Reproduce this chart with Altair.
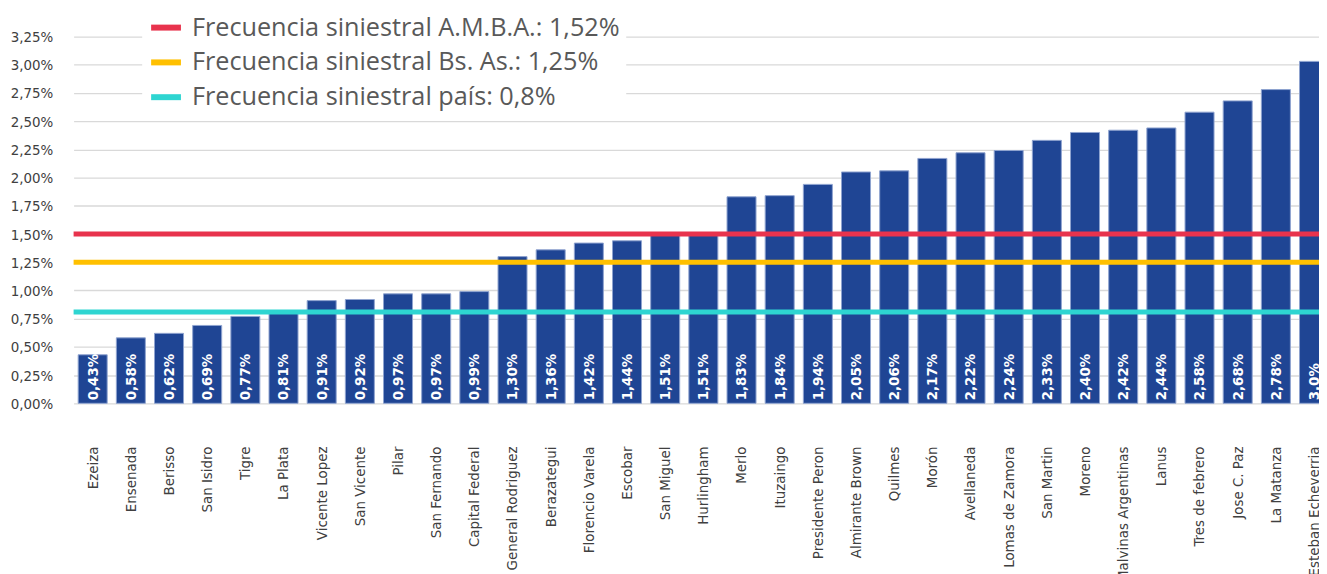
import altair as alt
import pandas as pd

municipios = ["Ezeiza", "Ensenada", "Berisso", "San Isidro", "Tigre", "La Plata",
              "Vicente Lopez", "San Vicente", "Pilar", "San Fernando", "Capital Federal",
              "General Rodriguez", "Berazategui", "Florencio Varela", "Escobar",
              "San Miguel", "Hurlingham", "Merlo", "Ituzaingo", "Presidente Peron",
              "Almirante Brown", "Quilmes", "Morón", "Avellaneda", "Lomas de Zamora",
              "San Martin", "Moreno", "Malvinas Argentinas", "Lanus", "Tres de febrero",
              "Jose C. Paz", "La Matanza", "Esteban Echeverria"]
frecuencia = [0.43, 0.58, 0.62, 0.69, 0.77, 0.81, 0.91, 0.92, 0.97, 0.97, 0.99,
              1.30, 1.36, 1.42, 1.44, 1.51, 1.51, 1.83, 1.84, 1.94, 2.05, 2.06,
              2.17, 2.22, 2.24, 2.33, 2.40, 2.42, 2.44, 2.58, 2.68, 2.78, 3.03]
etiquetas = ["0,43%", "0,58%", "0,62%", "0,69%", "0,77%", "0,81%", "0,91%", "0,92%",
             "0,97%", "0,97%", "0,99%", "1,30%", "1,36%", "1,42%", "1,44%", "1,51%",
             "1,51%", "1,83%", "1,84%", "1,94%", "2,05%", "2,06%", "2,17%", "2,22%",
             "2,24%", "2,33%", "2,40%", "2,42%", "2,44%", "2,58%", "2,68%", "2,78%",
             "3,0%"]

ref_series = ["Frecuencia siniestral A.M.B.A.: 1,52%",
              "Frecuencia siniestral Bs. As.: 1,25%",
              "Frecuencia siniestral país: 0,8%"]
ref_values = [1.50, 1.25, 0.81]
ref_colors = ["#E8334D", "#FFC000", "#2ED5D1"]

y_ticks = [0, 0.25, 0.5, 0.75, 1.0, 1.25, 1.5, 1.75, 2.0, 2.25, 2.5, 2.75, 3.0, 3.25]

bars_df = pd.DataFrame({"municipio": municipios, "frecuencia": frecuencia,
                        "etiqueta": etiquetas, "base": [0] * len(municipios)})
refs_df = pd.DataFrame({"serie": ref_series, "valor": ref_values})

COND = "DejaVu Sans Condensed, Liberation Sans Narrow, sans-serif"

x_axis = alt.Axis(labelAngle=270, labelAlign="right", labelBaseline="middle",
                  labelPadding=43, ticks=False, domain=False, grid=False,
                  labelFont=COND, labelFontSize=15, labelColor="#404040",
                  labelLimit=400)
x_scale = alt.Scale(range=[0, 1267.2], paddingInner=0.24, paddingOuter=0.12)

y_axis = alt.Axis(values=y_ticks, ticks=False, domain=False, grid=True,
                  gridColor="#D9D9D9", gridWidth=1.3, labelPadding=21,
                  labelFont=COND, labelFontSize=15, labelColor="#404040",
                  labelOverlap=False,
                  labelExpr="replace(format(datum.value, '.2f'), '.', ',') + '%'")
y_scale = alt.Scale(domain=[0, 3.25], nice=False, zero=True)

bars = alt.Chart(bars_df).mark_bar(color="#1F4594", stroke="#8FA3D0", strokeWidth=1).encode(
    x=alt.X("municipio:N", sort=municipios, title=None, scale=x_scale, axis=x_axis),
    y=alt.Y("frecuencia:Q", scale=y_scale, title=None, axis=y_axis),
)

labels = alt.Chart(bars_df).mark_text(angle=270, align="left", baseline="middle", dx=3,
                                      color="white", font=COND, fontSize=15,
                                      fontWeight="bold").encode(
    x=alt.X("municipio:N", sort=municipios, title=None, scale=x_scale, axis=x_axis),
    y=alt.Y("base:Q", scale=y_scale, title=None, axis=y_axis),
    text="etiqueta:N",
)

rules = alt.Chart(refs_df).mark_rule(strokeWidth=5).encode(
    y=alt.Y("valor:Q", scale=y_scale, title=None, axis=y_axis),
    color=alt.Color("serie:N", sort=ref_series,
                    scale=alt.Scale(domain=ref_series, range=ref_colors),
                    legend=alt.Legend(title=None, orient="none", legendX=69, legendY=-33,
                                      fillColor="white", padding=6,
                                      symbolType="stroke", symbolSize=900,
                                      symbolStrokeWidth=6, labelOffset=8,
                                      labelFont="Open Sans", labelFontSize=25.4,
                                      labelColor="#595959", rowPadding=3,
                                      labelLimit=600)),
)

chart = alt.layer(bars, labels, rules).properties(
    width=1253, height=369,
    autosize=alt.AutoSizeParams(type="none"),
    padding={"left": 66, "top": 27, "right": 0, "bottom": 170},
    background="white",
).configure_view(stroke=None)

chart.save("out.html", embed_options={"renderer": "svg", "actions": False})
